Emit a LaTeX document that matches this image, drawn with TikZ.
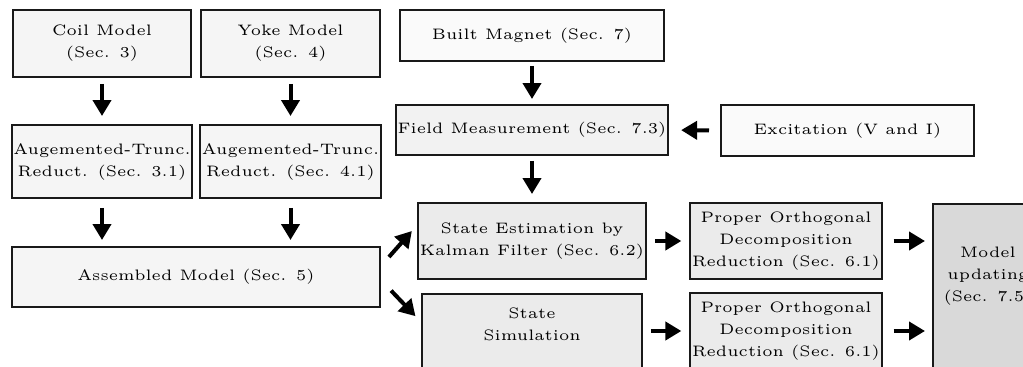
\documentclass[tikz,border=0pt]{standalone}
\usetikzlibrary{arrows.meta,calc}

\begin{document}
\begin{tikzpicture}[x=0.3pt, y=-0.3pt, >={Triangle[width=5.4pt,length=4.8pt]},
  block/.style={draw=black!90, line width=0.6pt, fill=gray!8, align=center, inner sep=0.5pt,
    font=\fontsize{4.55}{6.6}\selectfont},
  flow/.style={->, line width=1.2pt}]
  \useasboundingbox (0,0) rectangle (1023,367);
  \clip (0,0) rectangle (1023,367);

  % models
  \node[block, minimum width=53.7pt, minimum height=20.1pt] (coil) at (102,43.5) {Coil Model\\(Sec. 3)};
  \node[block, minimum width=53.7pt, minimum height=20.1pt] (yoke) at (290.5,43.5) {Yoke Model\\(Sec. 4)};
  \node[block, minimum width=53.7pt, minimum height=21.9pt] (augc) at (102,161.5) {Augemented-Trunc.\\Reduct. (Sec. 3.1)};
  \node[block, minimum width=53.7pt, minimum height=21.9pt] (augy) at (290.5,161.5) {Augemented-Trunc.\\Reduct. (Sec. 4.1)};
  \node[block, minimum width=110.4pt, minimum height=18pt] (asm) at (196,277) {Assembled Model (Sec. 5)};

  % measurement
  \node[block, fill=gray!4, minimum width=79.2pt, minimum height=15.3pt] (built) at (532,35.5) {Built Magnet (Sec. 7)};
  \node[block, fill=gray!10, minimum width=79.2pt, minimum height=15pt] (field) at (532,130) {Field Measurement (Sec. 7.3)};
  \node[block, fill=gray!4, minimum width=75.9pt, minimum height=15.3pt] (exc) at (847.5,130.5) {Excitation (V and I)};

  % estimation and reduction
  \node[block, fill=gray!16, minimum width=66pt, minimum height=22.8pt] (est) at (532,241) {State Estimation by\\Kalman Filter (Sec. 6.2)};
  \node[block, fill=gray!16, anchor=north, minimum width=66pt, inner ysep=4pt] (sim) at (532,293) {State\\Simulation\rule[-25pt]{0pt}{25pt}};
  \node[block, fill=gray!16, minimum width=55.8pt, minimum height=22.8pt] (pod1) at (786,241) {Proper Orthogonal\\Decomposition\\Reduction (Sec. 6.1)};
  \node[block, fill=gray!16, minimum width=55.8pt, minimum height=22.8pt] (pod2) at (786,331) {Proper Orthogonal\\Decomposition\\Reduction (Sec. 6.1)};
  \node[block, fill=gray!30, anchor=north west, minimum width=33pt, inner ysep=13pt] (upd) at (932,203) {Model\\updating\\(Sec. 7.5)\rule[-30pt]{0pt}{30pt}};

  % arrows
  \draw[flow, shorten <=1.8pt, shorten >=2.4pt] (coil) -- (augc);
  \draw[flow, shorten <=1.8pt, shorten >=2.4pt] (yoke) -- (augy);
  \draw[flow, shorten <=2.7pt, shorten >=1.8pt] (augc.south) -- (augc.south |- asm.north);
  \draw[flow, shorten <=2.7pt, shorten >=1.8pt] (augy.south) -- (augy.south |- asm.north);
  \draw[flow, shorten <=1.2pt, shorten >=1.5pt] (built) -- (field);
  \draw[flow, shorten <=3.3pt, shorten >=3.6pt] (exc.west) -- (field.east);
  \draw[flow, shorten <=1.5pt, shorten >=2.4pt] (field) -- (est);
  \draw[flow, shorten <=3.6pt, shorten >=2.4pt] ($(asm.east)+(0,-11)$) -- ($(est.west)+(0,-16)$);
  \draw[flow, shorten <=4.4pt, shorten >=2.4pt] ($(asm.east)+(0,3)$) -- ($(sim.north west)+(0,29)$);
  \draw[flow, shorten <=2.4pt, shorten >=2.4pt] (est) -- (pod1);
  \draw[flow, shorten <=2.4pt, shorten >=2.4pt] (pod2.west -| sim.east) -- (pod2.west);
  \draw[flow, shorten <=3.3pt, shorten >=2.1pt] (pod1.east) -- (pod1.east -| upd.west);
  \draw[flow, shorten <=3.3pt, shorten >=2.1pt] (pod2.east) -- (pod2.east -| upd.west);
\end{tikzpicture}
\end{document}
